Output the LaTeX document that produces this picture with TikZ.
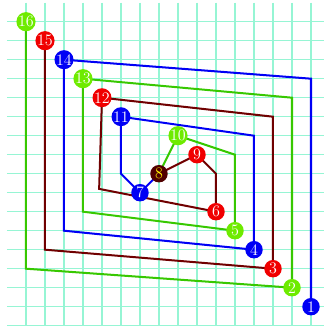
\documentclass[tikz,border=0pt]{standalone}
\usepackage{tikz}
\usetikzlibrary{backgrounds}
\definecolor{gridc}{RGB}{150,245,212}
\definecolor{lineblue}{RGB}{0,0,245}
\definecolor{linegreen}{RGB}{55,200,0}
\definecolor{linemaroon}{RGB}{112,0,0}
\definecolor{nodegreen}{RGB}{110,235,0}
\definecolor{nodered}{RGB}{240,0,0}
\definecolor{nodedark}{RGB}{80,0,0}
\begin{document}
\begin{tikzpicture}[x=0.5cm,y=-0.5cm,
  gridline/.style={gridc,line width=0.8pt},
  trail/.style={line width=1.5pt,line join=miter},
  dot/.style={circle,inner sep=0pt,minimum size=0.46cm,text=white,
    font=\fontsize{12}{12}\selectfont},
  bdot/.style={dot,fill=lineblue},
  gdot/.style={dot,fill=nodegreen},
  rdot/.style={dot,fill=nodered},
  cdot/.style={dot,fill=nodedark,text=yellow}]
\useasboundingbox (-1.368,-1.142) rectangle (15.684,16.016);

% numbered markers
\node[bdot] (n1) at (15,15) {1};
\node[gdot] (n2) at (14,14) {2};
\node[rdot] (n3) at (13,13) {3};
\node[bdot] (n4) at (12,12) {4};
\node[gdot] (n5) at (11,11) {5};
\node[rdot] (n6) at (10,10) {6};
\node[bdot] (n7) at (6,9) {7};
\node[cdot] (n8) at (7,8) {8};
\node[rdot] (n9) at (9,7) {9};
\node[gdot] (n10) at (8,6) {10};
\node[bdot] (n11) at (5,5) {11};
\node[rdot] (n12) at (4,4) {12};
\node[gdot] (n13) at (3,3) {13};
\node[bdot] (n14) at (2,2) {14};
\node[rdot] (n15) at (1,1) {15};
\node[gdot] (n16) at (0,0) {16};

% bends of the three trails
\coordinate (b1) at (15,3);
\coordinate (b2) at (2,11);
\coordinate (b3) at (12,6);
\coordinate (b4) at (5,8);
\coordinate (g1) at (0,13);
\coordinate (g2) at (14,4);
\coordinate (g3) at (3,10);
\coordinate (g4) at (11,7);
\coordinate (m1) at (1,12);
\coordinate (m2) at (13,5);
\coordinate (m3) at (3.85,8.8);
\coordinate (m4) at (10,8);

\begin{scope}[on background layer]
  % background grid
  \foreach \i in {0,...,15} \draw[gridline] (\i,-1) -- (\i,16.1);
  \foreach \j in {0,...,16} \draw[gridline] (-1,\j) -- (16.1,\j);

  % trails
  \draw[trail,lineblue] (n1.center) -- (b1) -- (n14.center) -- (b2) -- (n4.center)
    -- (b3) -- (n11.center) -- (b4) -- (n7.center) -- (n8.center);
  \draw[trail,linegreen] (n16.center) -- (g1) -- (n2.center) -- (g2) -- (n13.center)
    -- (g3) -- (n5.center) -- (g4) -- (n10.center) -- (n8.center);
  \draw[trail,linemaroon] (n15.center) -- (m1) -- (n3.center) -- (m2) -- (n12.center)
    -- (m3) -- (n6.center) -- (m4) -- (n9.center) -- (n8.center);
\end{scope}
\end{tikzpicture}
\end{document}
